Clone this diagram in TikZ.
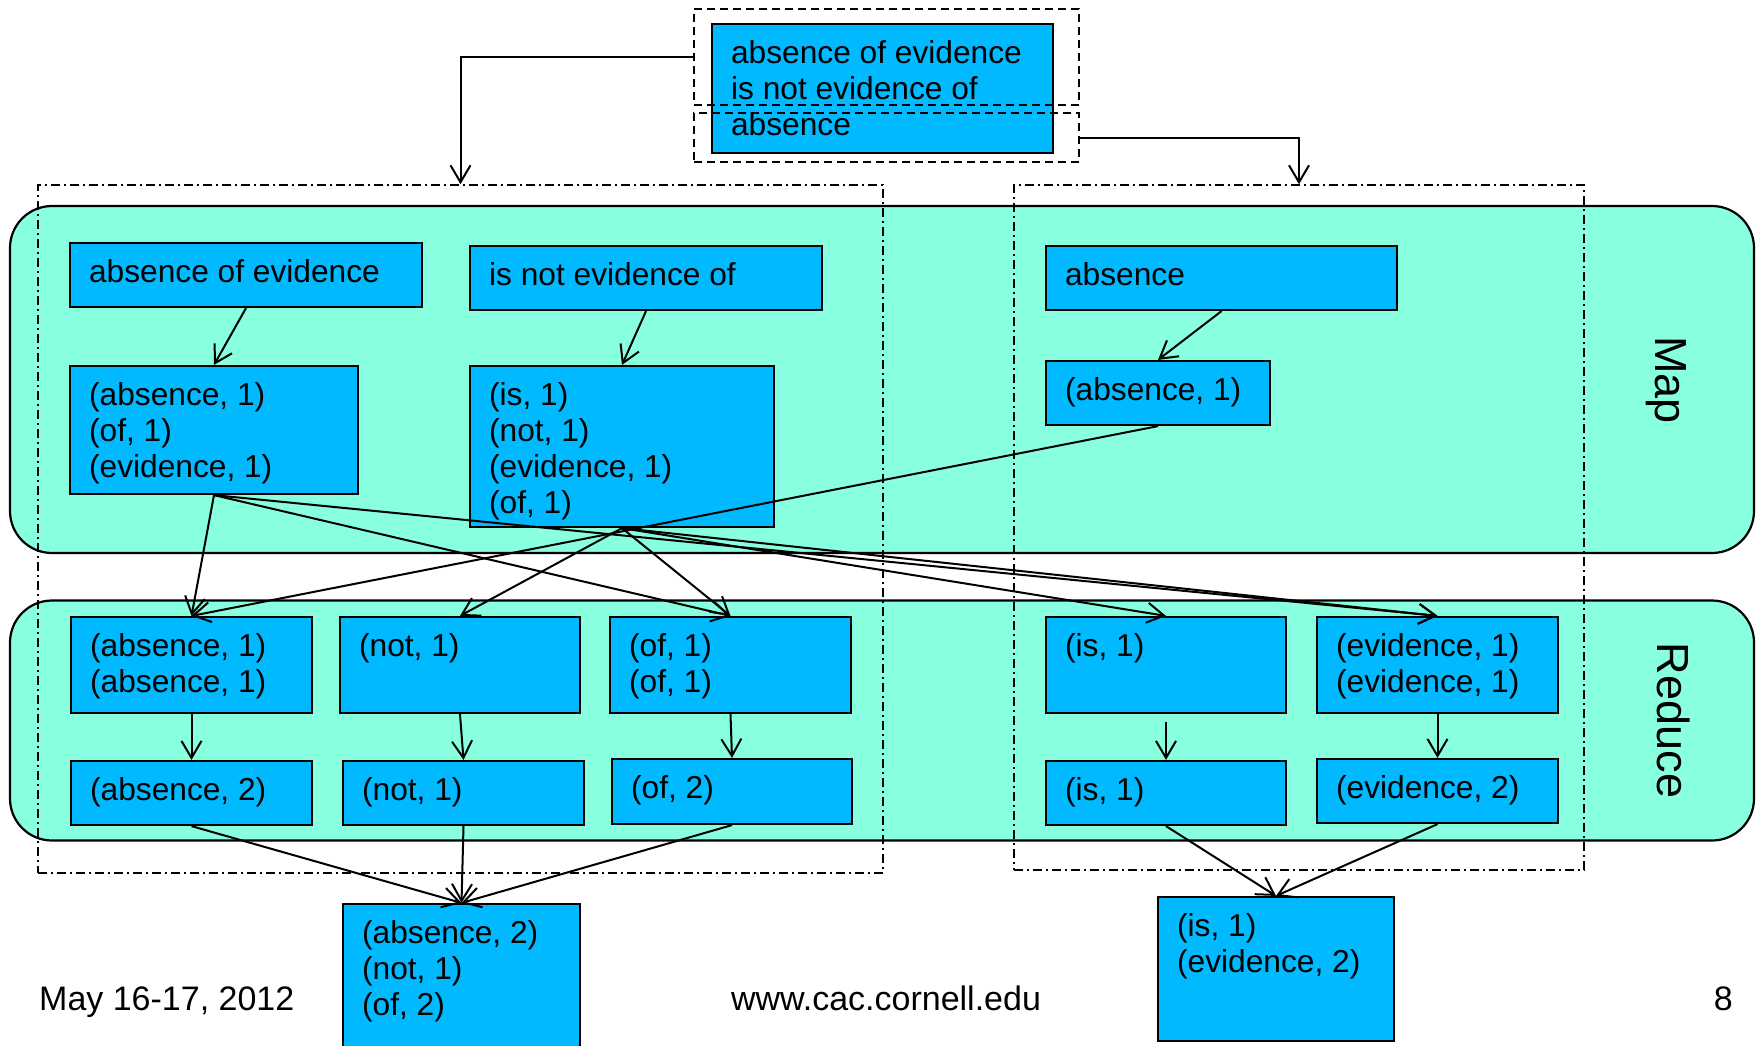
\documentclass[tikz,border=0pt]{standalone}
\usepackage{fontspec}
\setmainfont{Liberation Sans}
\usetikzlibrary{arrows.meta}
\definecolor{boxblue}{RGB}{0,185,255}
\definecolor{zonegreen}{RGB}{136,255,222}

\tikzset{
  blk/.style={draw, line width=2.2pt, fill=boxblue, inner sep=0pt},
  txt/.style={anchor=north west, inner sep=0pt, align=left,
              font=\fontsize{31.7}{36}\selectfont},
  zone/.style={draw, line width=2.2pt, fill=zonegreen, rounded corners=42pt, inner sep=0pt},
  dashdot/.style={draw, line width=1.5pt, dash pattern=on 9pt off 4pt on 2pt off 4pt, inner sep=0pt},
  dashbox/.style={draw, line width=2pt, dash pattern=on 8pt off 5pt, inner sep=0pt},
  arr/.style={-{Straight Barb[length=17pt,width=20pt]}, line width=2pt},
  sidelbl/.style={rotate=-90, anchor=base, inner sep=0pt, font=\fontsize{45}{54}\selectfont},
  foot/.style={inner sep=0pt, font=\fontsize{34}{40}\selectfont}
}

% \mrbox{name}{x1}{y1}{x2}{y2}{text}: filled box with top-left text
\newcommand\mrbox[6]{%
  \node[blk, minimum width={#4-#2}, minimum height={#5-#3}] (#1) at ({(#2+#4)/2},{(#3+#5)/2}) {};
  \node[txt] (#1-t) at ([xshift=20pt,yshift=-14.5pt]#1.north west) {\rule{0pt}{26pt}#6};
}

\begin{document}
\begin{tikzpicture}[x=1pt,y=-1pt]
\useasboundingbox (0,0) rectangle (1761,1045);

% Map and Reduce zones
\node[zone, minimum width=1744, minimum height=347] (mapzone) at (882,379.5) {};
\node[zone, minimum width=1744, minimum height=240] (redzone) at (882,720.5) {};
\node[sidelbl] (maplbl) at (1655,380) {Map};
\node[sidelbl] (redlbl) at (1657,720.5) {Reduce};

% split groups
\node[dashdot, minimum width=845, minimum height=688] (grpL) at (460.5,529) {};
\node[dashdot, minimum width=570, minimum height=685] (grpR) at (1299,527.5) {};

% input sentence
\mrbox{top}{712}{24}{1053}{153}{absence of evidence\\is not evidence of\\absence}
\node[dashbox, minimum width=385, minimum height=96] (splitA) at (886.5,57) {};
\node[dashbox, minimum width=385, minimum height=49] (splitB) at (886.5,137.5) {};

% map inputs and outputs
\mrbox{m1}{70}{243}{422}{307}{absence of evidence}
\mrbox{m2}{470}{246}{822}{310}{is not evidence of}
\mrbox{m3}{1046}{246}{1397}{310}{absence}
\mrbox{o1}{70}{366}{358}{494}{(absence, 1)\\(of, 1)\\(evidence, 1)}
\mrbox{o2}{470}{366}{774}{527}{(is, 1)\\(not, 1)\\(evidence, 1)\\(of, 1)}
\mrbox{o3}{1046}{361}{1270}{425}{(absence, 1)}

% reduce inputs
\mrbox{ra}{71}{617}{312}{713}{(absence, 1)\\(absence, 1)}
\mrbox{rb}{340}{617}{580}{713}{(not, 1)}
\mrbox{rc}{610}{617}{851}{713}{(of, 1)\\(of, 1)}
\mrbox{rd}{1046}{617}{1286}{713}{(is, 1)}
\mrbox{re}{1317}{617}{1558}{713}{(evidence, 1)\\(evidence, 1)}

% reduce outputs
\mrbox{sa}{71}{761}{312}{825}{(absence, 2)}
\mrbox{sb}{343}{761}{584}{825}{(not, 1)}
\mrbox{sc}{612}{759}{852}{824}{(of, 2)}
\mrbox{sd}{1046}{761}{1286}{825}{(is, 1)}
\mrbox{se}{1317}{759}{1558}{823}{(evidence, 2)}

% collected results
\mrbox{fa}{343}{904}{580}{1052}{(absence, 2)\\(not, 1)\\(of, 2)}
\mrbox{fb}{1158}{897}{1394}{1041}{(is, 1)\\(evidence, 2)}

% footer
\node[foot, anchor=base west] (date) at (39,1010) {May 16-17, 2012};
\node[foot, anchor=base] (url) at (886,1010) {www.cac.cornell.edu};
\node[foot, anchor=base east] (pg) at (1733,1010) {8};

% splitting
\draw[arr] (splitA.west) -| (grpL.north);
\draw[arr] (splitB.east) -| (grpR.north);

% map
\draw[arr] (m1.south) -- (o1.north);
\draw[arr] (m2.south) -- (o2.north);
\draw[arr] (m3.south) -- (o3.north);

% shuffle
\draw[arr] (o1.south) -- (ra.north);
\draw[arr] (o1.south) -- (rc.north);
\draw[arr] (o1.south) -- (re.north);
\draw[arr] (o2.south) -- (rb.north);
\draw[arr] (o2.south) -- (rc.north);
\draw[arr] (o2.south) -- (rd.north);
\draw[arr] (o2.south) -- (re.north);
\draw[arr] (o3.south) -- (ra.north);

% reduce
\draw[arr] (ra.south) -- (sa.north);
\draw[arr] (rb.south) -- (sb.north);
\draw[arr] (rc.south) -- (sc.north);
\draw[arr, shorten <=8pt] (rd.south) -- (sd.north);
\draw[arr] (re.south) -- (se.north);

% collect
\draw[arr] (sa.south) -- (fa.north);
\draw[arr] (sb.south) -- (fa.north);
\draw[arr] (sc.south) -- (fa.north);
\draw[arr] (sd.south) -- (fb.north);
\draw[arr] (se.south) -- (fb.north);
\end{tikzpicture}
\end{document}
